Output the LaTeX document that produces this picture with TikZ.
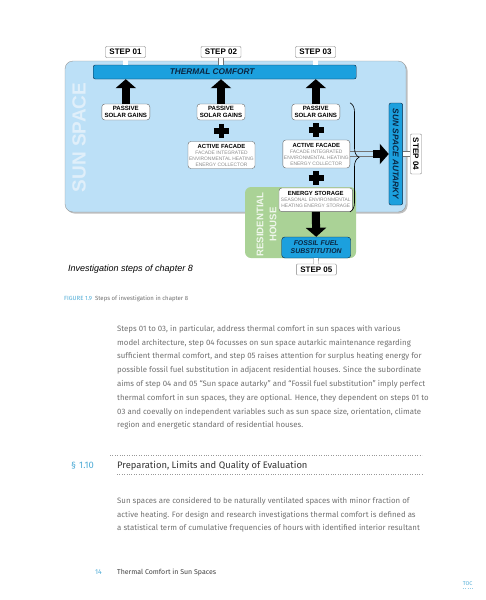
\documentclass[tikz,border=0pt]{standalone}
\usepackage{fontspec}
\setmainfont{Fira Sans}
\newfontfamily\figfont{Liberation Sans}
\usepackage{xcolor}
\usetikzlibrary{arrows.meta, calc, decorations.pathreplacing, positioning}

\definecolor{sunblue}{RGB}{188,224,247}
\definecolor{sunword}{RGB}{224,239,250}
\definecolor{barblue}{RGB}{28,160,222}
\definecolor{barnavy}{RGB}{10,38,66}
\definecolor{housegreen}{RGB}{170,210,150}
\definecolor{textgray}{RGB}{112,112,112}
\definecolor{linkblue}{RGB}{80,172,214}

\tikzset{
	stepbox/.style={draw=black!50, fill=white, rounded corners=1pt, inner sep=0pt,
		minimum width=40pt, minimum height=11pt, font=\figfont\bfseries\fontsize{8}{8}\selectfont},
	passbox/.style={draw=black!60, fill=white, rounded corners=3pt, inner sep=0pt, align=center,
		minimum width=48pt, minimum height=16pt, font=\figfont\bfseries\fontsize{6.1}{7.7}\selectfont},
	gainbox/.style={draw=black!60, fill=white, rounded corners=3pt, inner sep=0pt, align=center,
		font=\figfont\fontsize{4.9}{6}\selectfont, text=black!45},
	bluebar/.style={draw=barnavy, fill=barblue, rounded corners=2pt, inner sep=0pt,
		font=\figfont\bfseries\itshape\fontsize{8.3}{8.3}\selectfont, text=barnavy},
	bigarrow/.style={line width=8pt, -{Triangle[width=20pt,length=9pt]}},
	twin/.style={draw=black!55, double=#1, double distance=4.5pt, line width=0.4pt},
	twin/.default=white,
	plus/.style={line width=5.5pt},
}

\begin{document}
\begin{tikzpicture}[x=1pt, y=-1pt]
	\useasboundingbox (0,0) rectangle (486,600);
	
	% 阳光间和住宅底板
	\fill[black!25, rounded corners=8pt] (66.5,62.5) rectangle (407.5,213.5);
	\draw[fill=sunblue, draw=black!40, rounded corners=8pt] (65,61) rectangle (406,212);
	\fill[housegreen, rounded corners=6pt] (245,187) rectangle (356,258);
	\node[rotate=90, text=sunword, font=\figfont\bfseries\fontsize{19}{19}\selectfont] (sunlabel) at (79,137.5) {SUN SPACE};
	\node[rotate=90, text=white!82!housegreen, align=center, font=\figfont\bfseries\fontsize{9.6}{13}\selectfont] (houselabel) at (266.5,224.5) {RESIDENTIAL\\HOUSE};
	
	% 步骤框
	\node[stepbox] (s1) at (125.5,52) {STEP 01};
	\node[stepbox] (s2) at (221,52) {STEP 02};
	\node[stepbox] (s3) at (315.5,52) {STEP 03};
	\node[stepbox, rotate=-90] (s4) at (416,154) {STEP 04};
	\node[stepbox] (s5) at (316.3,269.5) {STEP 05};
	
	% 蓝色目标条
	\node[bluebar, minimum width=263pt, minimum height=14pt] (tc) at (224.7,72) {\hspace*{-25pt}THERMAL COMFORT};
	\node[bluebar, rotate=-90, minimum width=102pt, minimum height=13.7pt] (aut) at (395.8,154) {SUN SPACE AUTARKY};
	\node[bluebar, align=center, rounded corners=3pt, minimum width=69pt, minimum height=21pt,
		font=\figfont\bfseries\itshape\fontsize{6.9}{8}\selectfont] (ff) at (316.2,247.5) {FOSSIL FUEL\\SUBSTITUTION};
	
	% 白色说明框
	\node[passbox] (pg1) at (125.8,112) {PASSIVE\\SOLAR GAINS};
	\node[passbox] (pg2) at (221,112) {PASSIVE\\SOLAR GAINS};
	\node[passbox] (pg3) at (315.8,112) {PASSIVE\\SOLAR GAINS};
	\node[gainbox, minimum width=67pt, minimum height=27pt] (af2) at (221.5,155)
		{{\color{black}\bfseries\fontsize{5.9}{6}\selectfont ACTIVE FACADE}\\FACADE INTEGRATED\\ENVIRONMENTAL HEATING\\ENERGY COLLECTOR};
	\node[gainbox, minimum width=67pt, minimum height=28pt] (af3) at (316.3,154)
		{{\color{black}\bfseries\fontsize{5.9}{6}\selectfont ACTIVE FACADE}\\FACADE INTEGRATED\\ENVIRONMENTAL HEATING\\ENERGY COLLECTOR};
	\node[gainbox, minimum width=73.7pt, minimum height=23.7pt] (es) at (315.8,199.8)
		{{\color{black}\bfseries\fontsize{5.9}{6}\selectfont ENERGY STORAGE}\\SEASONAL ENVIRONMENTAL\\HEATING ENERGY STORAGE};
	
	% 双线连接
	\draw[twin] (s1.south) -- (s1.south |- tc.north);
	\draw[twin] (s2.south) -- (s2.south |- tc.north);
	\draw[twin] (s3.south) -- (s3.south |- tc.north);
	\draw[twin] (ff.south) -- (s5.north);
	\draw[twin] (aut.north) -- (s4.south);
	\coordinate (ar) at ($(aut.south)+(-16,0)$);
	\draw[twin=sunblue] (af3.east) -- (ar);
	
	% 粗箭头
	\draw[bigarrow] (pg1.north) -- (pg1.north |- tc.south);
	\draw[bigarrow] (pg2.north) -- (pg2.north |- tc.south);
	\draw[bigarrow] (pg3.north) -- (pg3.north |- tc.south);
	\draw[bigarrow] (es.south) -- (ff.north);
	\draw[bigarrow] (ar) -- (aut.south);
	
	% 加号
	\coordinate (x2) at ($(pg2.south)!0.5!(af2.north)$);
	\coordinate (x3) at ($(pg3.south)!0.5!(af3.north)$);
	\coordinate (x4) at ($(af3.south)!0.5!(es.north)$);
	\draw[plus] ($(x2)+(-7.5,0)$) -- ($(x2)+(7.5,0)$) ($(x2)+(0,-7)$) -- ($(x2)+(0,7)$);
	\draw[plus] ($(x3)+(-7.5,0)$) -- ($(x3)+(7.5,0)$) ($(x3)+(0,-7)$) -- ($(x3)+(0,7)$);
	\draw[plus] ($(x4)+(-7.5,0)$) -- ($(x4)+(7.5,0)$) ($(x4)+(0,-7)$) -- ($(x4)+(0,7)$);
	
	% 大括号
	\coordinate (bt) at ($(pg3.north east)+(10,-1)$);
	\coordinate (bb) at (bt |- es.south);
	\draw[decorate, decoration={brace, amplitude=9pt}, line width=0.6pt] (bt) -- (bb);
	
	\node[anchor=base west, inner sep=0pt, font=\figfont\itshape\fontsize{9}{9}\selectfont] (figtitle) at (68,271) {Investigation steps of chapter 8};
	
	% 图注与正文
	\node[anchor=base west, inner sep=0pt, font=\fontsize{6}{6}\selectfont] (caption) at (64,300.5)
		{\textcolor{linkblue}{FIGURE 1.9}\hspace{3pt}\textcolor{textgray}{Steps of investigation in chapter 8}};
	\node[anchor=north west, inner sep=0pt, align=left, text=textgray, font=\fontsize{7.85}{13.8}\selectfont] (para1) at (117,325)
		{Steps 01 to 03, in particular, address thermal comfort in sun spaces with various\\
		model architecture, step 04 focusses on sun space autarkic maintenance regarding\\
		sufficient thermal comfort, and step 05 raises attention for surplus heating energy for\\
		possible fossil fuel substitution in adjacent residential houses. Since the subordinate\\
		aims of step 04 and 05 “Sun space autarky” and “Fossil fuel substitution” imply perfect\\
		thermal comfort in sun spaces, they are optional. Hence, they dependent on steps 01 to\\
		03 and coevally on independent variables such as sun space size, orientation, climate\\
		region and energetic standard of residential houses.};
	
	% 小节标题
	\draw[dotted, black!40] (110,455) -- (422,455);
	\draw[dotted, black!40] (117,474) -- (422,474);
	\node[anchor=base west, inner sep=0pt, text=linkblue, font=\fontsize{9.4}{9.4}\selectfont] (secno) at (71,468.5) {§\hspace{3pt}1.10};
	\node[anchor=base west, inner sep=0pt, text=black!80, font=\fontsize{9.4}{9.4}\selectfont] (sectitle) at (117,468.5) {Preparation, Limits and Quality of Evaluation};
	\node[anchor=north west, inner sep=0pt, align=left, text=textgray, font=\fontsize{7.85}{13.8}\selectfont] (para2) at (117,497)
		{Sun spaces are considered to be naturally ventilated spaces with minor fraction of\\
		active heating. For design and research investigations thermal comfort is defined as\\
		a statistical term of cumulative frequencies of hours with identified interior resultant};
	
	% 页脚
	\node[anchor=base west, inner sep=0pt, text=linkblue, font=\fontsize{7}{7}\selectfont] (pageno) at (95,574) {14};
	\node[anchor=base west, inner sep=0pt, text=black!75, font=\fontsize{7}{7}\selectfont] (runhead) at (117,574) {Thermal Comfort in Sun Spaces};
	\node[anchor=base west, inner sep=0pt, text=linkblue, font=\fontsize{5.5}{6}\selectfont] (toc) at (462.7,585) {TOC};
	\draw[dotted, linkblue!60] (toc.south west) ++(0,3) -- ++(11,0);
\end{tikzpicture}
\end{document}
